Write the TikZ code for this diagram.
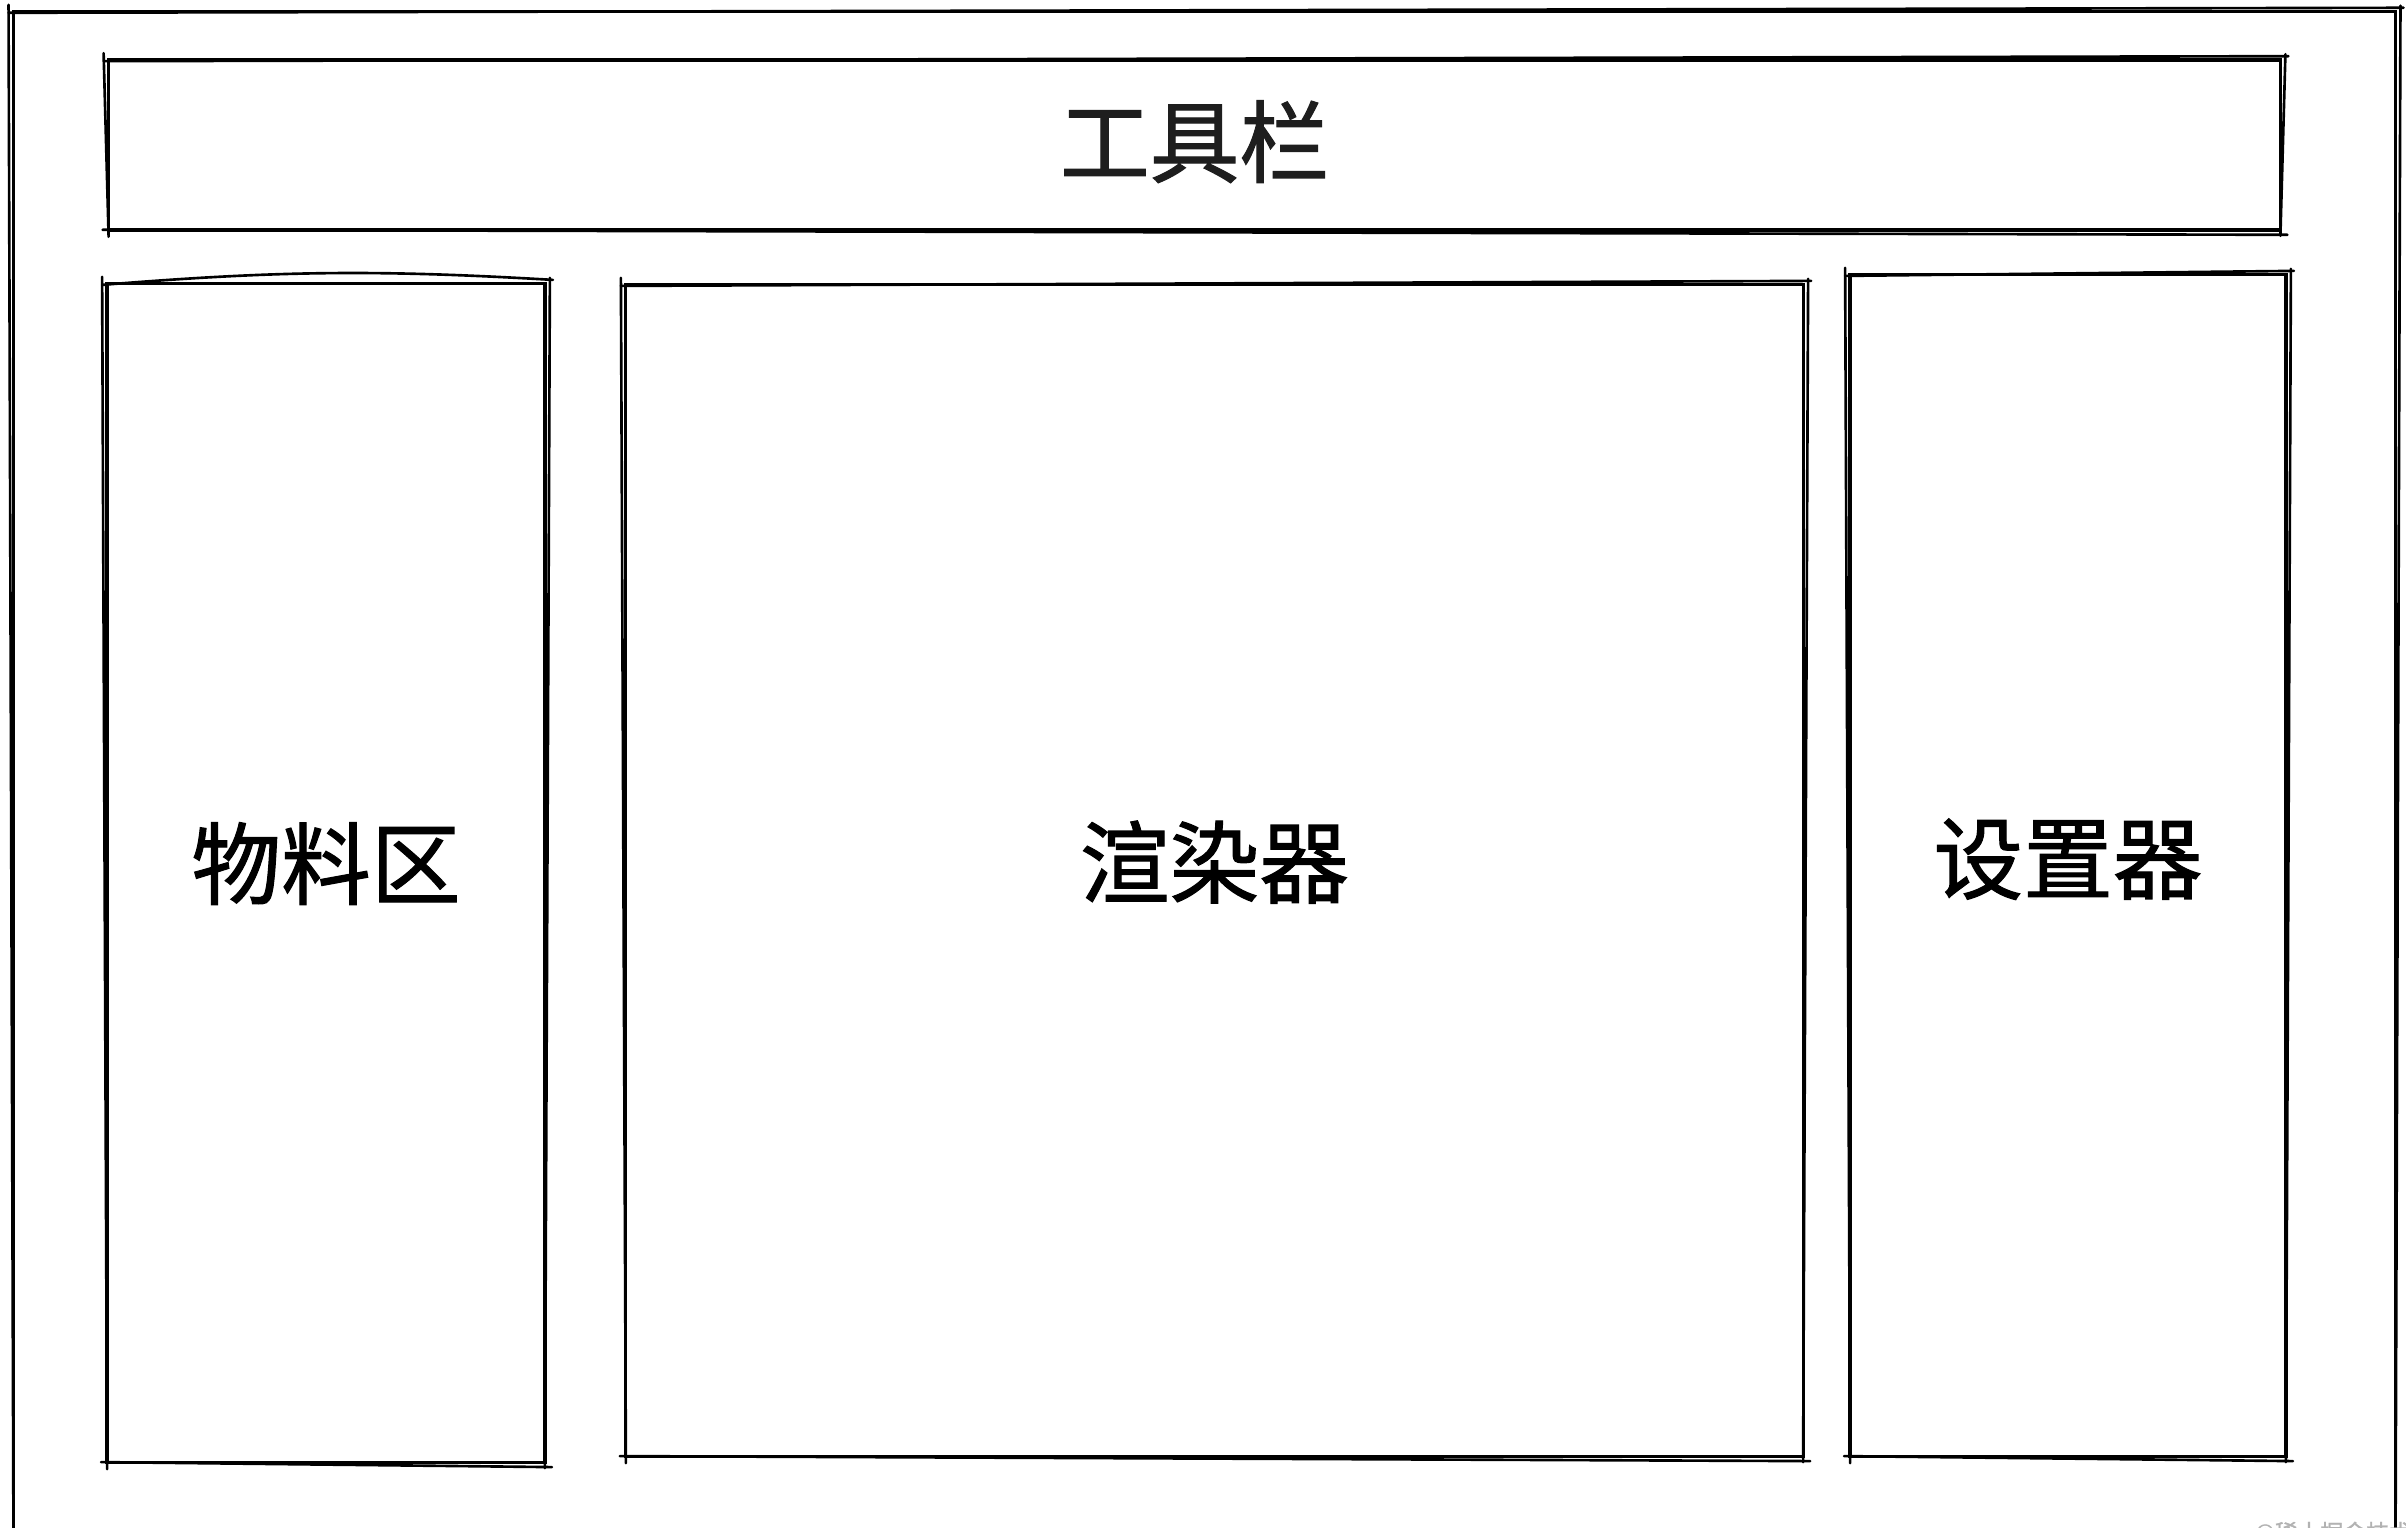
\documentclass[tikz,border=0pt]{standalone}
\usepackage{fontspec}
\newfontfamily\cjk[FakeBold=1.2]{Noto Sans CJK SC}
\usepackage{tikz}
\usetikzlibrary{positioning}

\definecolor{inkdark}{HTML}{1E1E1E}
\tikzset{
  panel/.style={draw, line width=1pt, inner sep=0pt, font=\cjk\fontsize{25.5}{30}\selectfont},
  sketch/.style={line width=0.75pt, line cap=round},
}
% second, slightly shifted stroke over a box, for the hand-drawn look
\newcommand{\roughbox}[2][0]{%
  \draw[sketch] ([shift={(-3,3)}]#2.north west) to[bend left=#1] ([shift={(6,-2)}]#2.north east);
  \draw[sketch] ([shift={(3,-4)}]#2.north east) -- ([shift={(-2,4)}]#2.south east);
  \draw[sketch] ([shift={(5,3)}]#2.south east) -- ([shift={(-4,-2)}]#2.south west);
  \draw[sketch] ([shift={(2,5)}]#2.south west) -- ([shift={(-3,-5)}]#2.north west);
}

\begin{document}
\begin{tikzpicture}[x=0.01cm, y=-0.01cm]
\useasboundingbox[fill=white] (0,0) rectangle (2406,1528);

\node[panel, minimum width=23.81cm, minimum height=15.48cm] at (1204.5,786) (frame) {};
\node[panel, text=inkdark, minimum width=21.71cm, minimum height=1.70cm] at (1194.5,145) (toolbar) {\raisebox{0.14cm}{工具栏}};
\node[panel, minimum width=4.38cm, minimum height=11.78cm] at (326,873) (materials) {\raisebox{0.26cm}{物料区}};
\node[panel, minimum width=11.77cm, minimum height=11.71cm] at (1214.5,870.5) (renderer) {\raisebox{0.24cm}{渲染器}};
\node[panel, minimum width=4.36cm, minimum height=11.81cm] at (2068,865.5) (settings) {\raisebox{0.20cm}{设置器}};

\roughbox{frame}
\roughbox{toolbar}
\roughbox[4]{materials}
\roughbox{renderer}
\roughbox{settings}

\node[anchor=north west, inner sep=0pt, text=black!30, font=\cjk\fontsize{6.5}{8}\selectfont] at (2255,1521) (mark) {©稀土掘金技术社区};
\end{tikzpicture}
\end{document}
